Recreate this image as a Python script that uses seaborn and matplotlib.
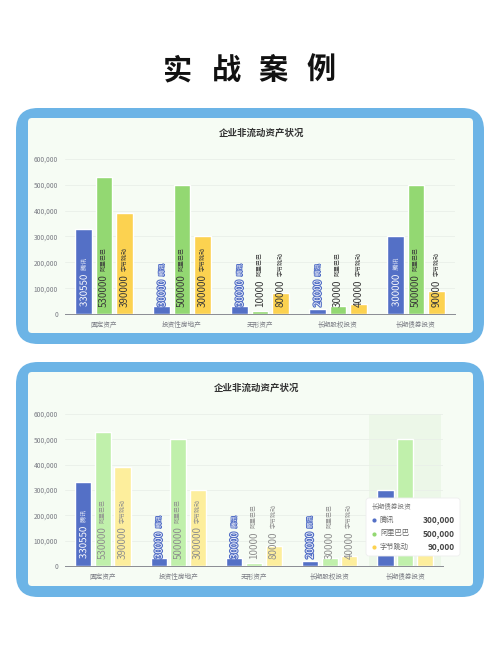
import matplotlib
matplotlib.use("Agg")
import matplotlib.pyplot as plt
import matplotlib.patheffects as pe
from matplotlib.patches import FancyBboxPatch
import seaborn as sns
import pandas as pd

# 数据
categories = ["固定资产", "投资性房地产", "无形资产", "长期股权投资", "长期债券投资"]
companies = ["腾讯", "阿里巴巴", "字节跳动"]
tencent = [330550, 30000, 30000, 20000, 300000]
alibaba = [530000, 500000, 10000, 30000, 500000]
bytedance = [390000, 300000, 80000, 40000, 90000]
yticks = [0, 100000, 200000, 300000, 400000, 500000, 600000]
chart_title = "企业非流动资产状况"
page_title = "实战案例"
hover_idx = 4

colors = ["#5470c6", "#93d872", "#fcd250"]
faded = ["#5470c6", "#c0f0ab", "#fdee9c"]

sns.set_theme(style="white")
plt.rcParams["font.family"] = ["Noto Sans CJK SC", "DejaVu Sans"]

df = pd.DataFrame({
    "类别": categories * 3,
    "公司": [c for c in companies for _ in categories],
    "数值": tencent + alibaba + bytedance,
})

W, H = 500, 654
fig = plt.figure(figsize=(W / 100, H / 100), dpi=100)
fig.patch.set_facecolor("white")

# 背景层（像素坐标）
bg = fig.add_axes([0, 0, 1, 1], zorder=0)
bg.set_xlim(0, W)
bg.set_ylim(H, 0)
bg.axis("off")

chars_x = [178, 226, 273, 321]
for ch, cx in zip(page_title, chars_x):
    bg.text(cx, 70, ch, ha="center", va="center", fontsize=21,
            fontweight="heavy", color="#111111")

for top, bot in [(108, 344), (362, 597)]:
    bg.add_patch(FancyBboxPatch((16, top), 468, bot - top,
                                boxstyle="round,pad=0,rounding_size=22",
                                fc="#6cb4e6", ec="none"))
    bg.add_patch(FancyBboxPatch((28, top + 10), 445, bot - top - 21,
                                boxstyle="round,pad=0,rounding_size=4",
                                fc="#f6fcf4", ec="none"))


def draw_chart(axes_box, title_xy, pal, label_cols, hover=False):
    ax = fig.add_axes(axes_box, zorder=2)
    ax.set_facecolor("none")
    if hover:
        ax.axvspan(hover_idx - 0.48, hover_idx + 0.48, color="#ecf7e8", zorder=0, lw=0)
    sns.barplot(data=df, x="类别", y="数值", hue="公司", palette=pal,
                width=0.78, gap=0.18, saturation=1, legend=False, ax=ax, zorder=2)
    ax.set_ylim(0, 600000)
    ax.set_xlim(-0.5, len(categories) - 0.5)
    ax.set_yticks(yticks)
    ax.set_yticklabels([f"{v:,}" for v in yticks])
    ax.yaxis.grid(True, color="#e9efe9", lw=0.6)
    ax.set_axisbelow(True)
    ax.tick_params(axis="both", labelsize=4.8, colors="#7a7c84", length=0, pad=5)
    ax.set_xlabel("")
    ax.set_ylabel("")
    for s in ["top", "right", "left"]:
        ax.spines[s].set_visible(False)
    ax.spines["bottom"].set_color("#8a8c94")
    ax.spines["bottom"].set_linewidth(0.7)

    for i, (cont, name, lc) in enumerate(zip(ax.containers, companies, label_cols)):
        for j, bar in enumerate(cont):
            # 提示框遮住的标签不画
            if hover and j == hover_idx:
                continue
            x = bar.get_x() + bar.get_width() / 2
            val = int(round(bar.get_height()))
            t = ax.annotate(str(val), xy=(x, 0), xytext=(0, 5),
                            textcoords="offset points", rotation=90,
                            ha="center", va="bottom", fontsize=7,
                            color=lc, zorder=4)
            n = ax.annotate(name, xy=(0.5, 1), xycoords=t, xytext=(0, 2.5),
                            textcoords="offset points", rotation=90,
                            ha="center", va="bottom", fontsize=4.3,
                            color=lc, zorder=4)
            if i == 0:
                t.set_path_effects([pe.withStroke(linewidth=1.6, foreground=pal[0])])
                n.set_path_effects([pe.withStroke(linewidth=1.2, foreground=pal[0])])

    bg.text(title_xy[0], title_xy[1], chart_title, ha="center", va="center",
            fontsize=6.8, fontweight="bold", color="#333333")
    return ax


draw_chart([65 / W, 1 - 314 / H, 390 / W, 155 / H], (262, 133), colors,
           ["white", "#3a3a3a", "#3a3a3a"])
draw_chart([65 / W, 1 - 566 / H, 378 / W, 152 / H], (257, 388), faded,
           ["white", "#8f8f8f", "#8f8f8f"], hover=True)

# 提示框
top = fig.add_axes([0, 0, 1, 1], zorder=5)
top.set_xlim(0, W)
top.set_ylim(H, 0)
top.axis("off")
top.add_patch(FancyBboxPatch((366, 498), 94, 58,
                             boxstyle="round,pad=0,rounding_size=3",
                             fc="white", ec="#eeeeee", lw=0.6))
top.text(372, 507, categories[hover_idx], fontsize=4.8, color="#777777", va="center")
rows = [tencent[hover_idx], alibaba[hover_idx], bytedance[hover_idx]]
for i, (name, v, c) in enumerate(zip(companies, rows, colors)):
    yy = 520 + i * 13.5
    top.scatter([374], [yy], s=9, color=c, lw=0)
    top.text(380, yy, name, fontsize=5.2, color="#666666", va="center")
    top.text(455, yy, f"{v:,}", fontsize=6, fontweight="bold",
             color="#444444", va="center", ha="right")

fig.savefig("out.png", dpi=100)
